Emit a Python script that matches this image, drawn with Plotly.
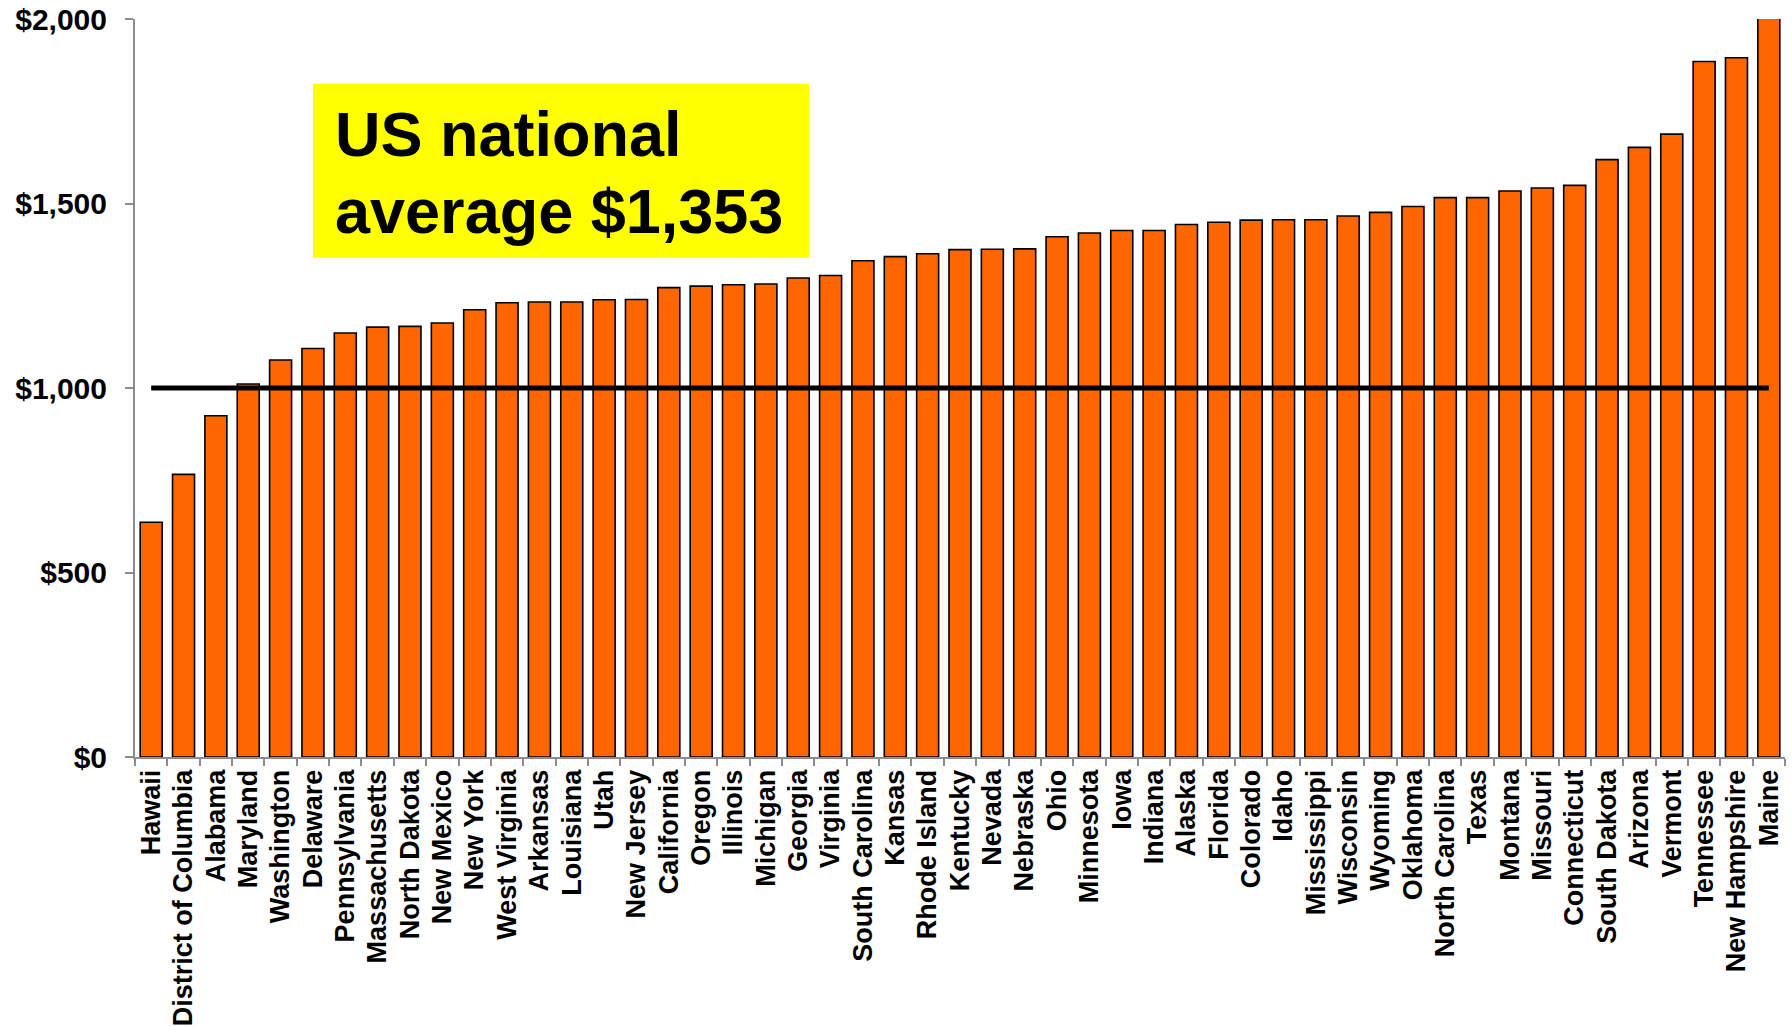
import plotly.graph_objects as go

# Average annual cost by state, sorted ascending
states = [
    "Hawaii", "District of Columbia", "Alabama", "Maryland", "Washington",
    "Delaware", "Pennsylvania", "Massachusetts", "North Dakota", "New Mexico",
    "New York", "West Virginia", "Arkansas", "Louisiana", "Utah",
    "New Jersey", "California", "Oregon", "Illinois", "Michigan",
    "Georgia", "Virginia", "South Carolina", "Kansas", "Rhode Island",
    "Kentucky", "Nevada", "Nebraska", "Ohio", "Minnesota",
    "Iowa", "Indiana", "Alaska", "Florida", "Colorado",
    "Idaho", "Mississippi", "Wisconsin", "Wyoming", "Oklahoma",
    "North Carolina", "Texas", "Montana", "Missouri", "Connecticut",
    "South Dakota", "Arizona", "Vermont", "Tennessee", "New Hampshire",
    "Maine",
]
costs = [
    636, 766, 925, 1011, 1076,
    1107, 1149, 1165, 1167, 1176,
    1212, 1231, 1233, 1233, 1239,
    1240, 1272, 1276, 1280, 1282,
    1298, 1305, 1345, 1356, 1364,
    1375, 1376, 1377, 1410, 1420,
    1427, 1427, 1443, 1449, 1455,
    1456, 1456, 1466, 1476, 1492,
    1516, 1516, 1534, 1542, 1549,
    1619, 1652, 1688, 1885, 1895,
    2080,
]
reference_level = 1000
y_ticks = [0, 500, 1000, 1500, 2000]
y_tick_labels = ["$0", "$500", "$1,000", "$1,500", "$2,000"]
callout_lines = ["US national", "average $1,353"]

FONT = "Liberation Sans, Arial, sans-serif"
AXIS_GRAY = "#8c8c8c"

# Plot-area geometry in pixels, used to place the callout in paper space
W, H = 1792, 1027
L, R, T, B = 135, 7, 19.4, 270.4
PW, PH = W - L - R, H - T - B


def px_x(x):
    return (x - L) / PW


def px_y(y):
    return (H - B - y) / PH


fig = go.Figure()

fig.add_trace(go.Bar(
    x=states,
    y=costs,
    marker=dict(color="#FF6600", line=dict(color="#000000", width=1.6)),
    showlegend=False,
))

# Horizontal reference line spanning first to last state
fig.add_trace(go.Scatter(
    x=[states[0], states[-1]],
    y=[reference_level, reference_level],
    mode="lines",
    line=dict(color="#000000", width=5),
    showlegend=False,
    hoverinfo="skip",
))

# Yellow callout box
fig.add_shape(
    type="rect", xref="paper", yref="paper",
    x0=px_x(313), x1=px_x(809), y0=px_y(258), y1=px_y(84),
    fillcolor="#FFFF00", line=dict(width=0), layer="above",
)
for line_text, center_y in zip(callout_lines, [134, 211]):
    fig.add_annotation(
        xref="paper", yref="paper",
        x=px_x(333), y=px_y(center_y),
        xanchor="left", yanchor="middle",
        text=line_text,
        showarrow=False,
        font=dict(family=FONT, size=63, color="#000000", weight="bold"),
    )

fig.update_layout(
    width=W, height=H,
    margin=dict(l=L, r=R, t=T, b=B, autoexpand=False),
    paper_bgcolor="#FFFFFF",
    plot_bgcolor="#FFFFFF",
    bargap=0.32,
    xaxis=dict(
        type="category",
        automargin=False,
        tickangle=-90,
        tickson="boundaries",
        ticks="outside",
        ticklen=7,
        tickwidth=1.5,
        tickcolor=AXIS_GRAY,
        showline=True,
        linecolor=AXIS_GRAY,
        linewidth=2,
        showgrid=False,
        tickfont=dict(family=FONT, size=27, color="#000000", weight="bold"),
        range=[-0.5, len(states) - 0.5],
    ),
    yaxis=dict(
        automargin=False,
        range=[0, 2000],
        tickvals=y_ticks,
        ticktext=y_tick_labels,
        ticks="outside",
        ticklen=8,
        tickwidth=1.5,
        tickcolor=AXIS_GRAY,
        showline=True,
        linecolor=AXIS_GRAY,
        linewidth=2,
        showgrid=False,
        zeroline=False,
        ticklabelstandoff=12,
        tickfont=dict(family=FONT, size=30, color="#000000", weight="bold"),
    ),
)

fig.write_html("out.html")
